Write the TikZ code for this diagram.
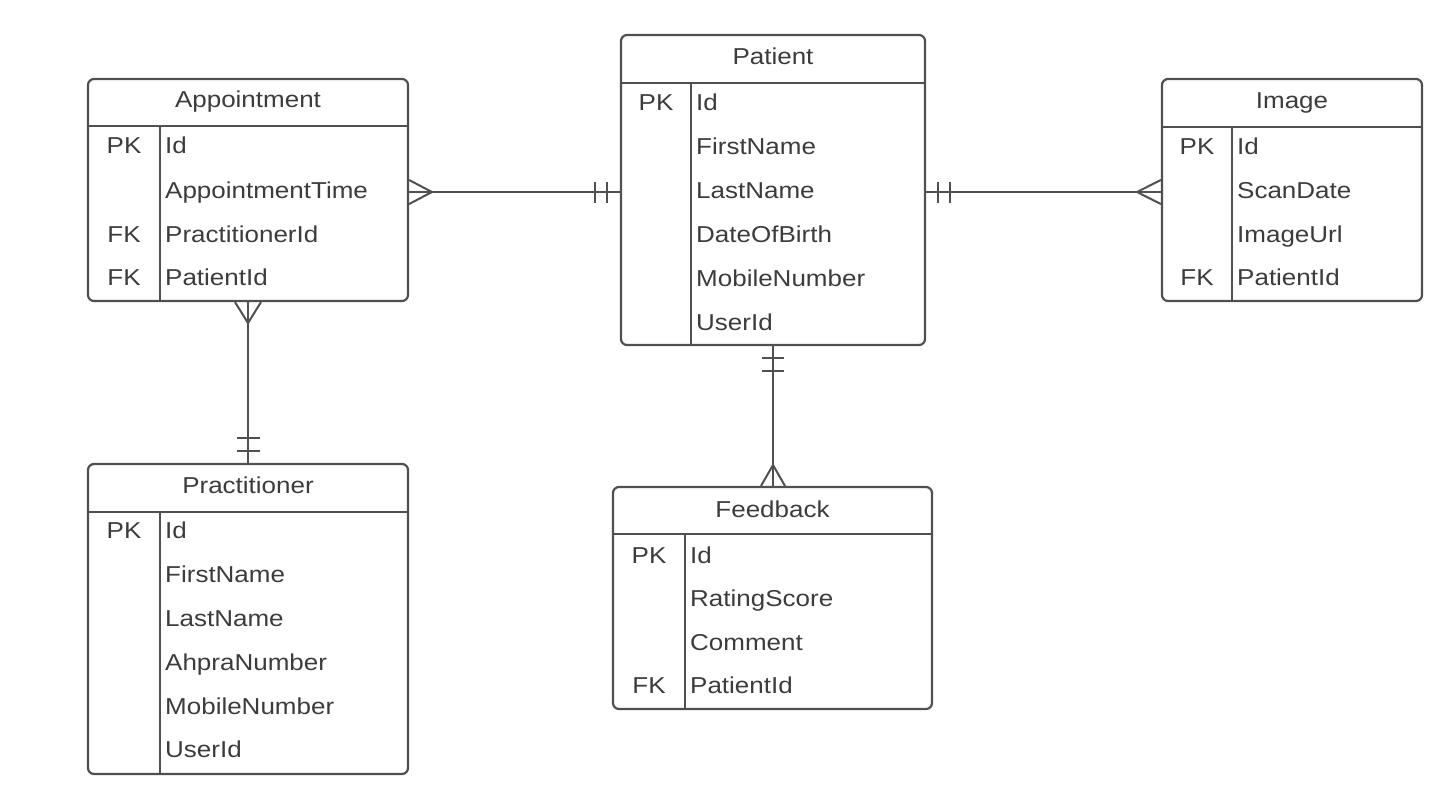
\documentclass[tikz,border=0pt]{standalone}
\usepackage{fontspec}
\setmainfont{Liberation Sans}[FakeStretch=1.13]
\definecolor{linegray}{HTML}{505050}
\definecolor{textgray}{HTML}{3C3C3C}
\begin{document}
\begin{tikzpicture}[x=1pt,y=-1pt,
  entity/.style={draw=linegray, line width=2.2pt, rounded corners=6pt, fill=white, inner sep=0pt},
  sepline/.style={draw=linegray, line width=2.2pt},
  conn/.style={draw=linegray, line width=2pt},
  txt/.style={font=\fontsize{23}{28}\selectfont, text=textgray, inner sep=0pt, anchor=base},
  fieldtxt/.style={txt, anchor=base west},
]
\useasboundingbox (0,0) rectangle (1456,801);
\fill[white] (0,0) rectangle (1456,801);

% ---------- Appointment ----------
\node[entity, minimum width=320pt, minimum height=222pt] (app) at (248,190) {};
\draw[sepline] (app.west |- 0,126) -- (app.east |- 0,126);
\draw[sepline] (160,126) -- (app.south -| 160,0);
\node[txt] (appT) at (248,107) {Appointment};
\node[txt] (appK1) at (124,153) {PK};
\node[fieldtxt] (appF1) at (165,153) {Id};
\node[fieldtxt] (appF2) at (165,198) {AppointmentTime};
\node[txt] (appK3) at (124,242) {FK};
\node[fieldtxt] (appF3) at (165,242) {PractitionerId};
\node[txt] (appK4) at (124,285) {FK};
\node[fieldtxt] (appF4) at (165,285) {PatientId};

% ---------- Patient ----------
\node[entity, minimum width=304pt, minimum height=310pt] (pat) at (773,190) {};
\draw[sepline] (pat.west |- 0,83) -- (pat.east |- 0,83);
\draw[sepline] (691,83) -- (pat.south -| 691,0);
\node[txt] (patT) at (773,64) {Patient};
\node[txt] (patK1) at (656,110) {PK};
\node[fieldtxt] (patF1) at (696,110) {Id};
\node[fieldtxt] (patF2) at (696,154) {FirstName};
\node[fieldtxt] (patF3) at (696,198) {LastName};
\node[fieldtxt] (patF4) at (696,242) {DateOfBirth};
\node[fieldtxt] (patF5) at (696,286) {MobileNumber};
\node[fieldtxt] (patF6) at (696,330) {UserId};

% ---------- Image ----------
\node[entity, minimum width=260pt, minimum height=222pt] (img) at (1292,190) {};
\draw[sepline] (img.west |- 0,127) -- (img.east |- 0,127);
\draw[sepline] (1232,127) -- (img.south -| 1232,0);
\node[txt] (imgT) at (1292,108) {Image};
\node[txt] (imgK1) at (1197,154) {PK};
\node[fieldtxt] (imgF1) at (1237,154) {Id};
\node[fieldtxt] (imgF2) at (1237,198) {ScanDate};
\node[fieldtxt] (imgF3) at (1237,242) {ImageUrl};
\node[txt] (imgK4) at (1197,285) {FK};
\node[fieldtxt] (imgF4) at (1237,285) {PatientId};

% ---------- Practitioner ----------
\node[entity, minimum width=320pt, minimum height=310pt] (pra) at (248,619) {};
\draw[sepline] (pra.west |- 0,512) -- (pra.east |- 0,512);
\draw[sepline] (160,512) -- (pra.south -| 160,0);
\node[txt] (praT) at (248,493) {Practitioner};
\node[txt] (praK1) at (124,538) {PK};
\node[fieldtxt] (praF1) at (165,538) {Id};
\node[fieldtxt] (praF2) at (165,582) {FirstName};
\node[fieldtxt] (praF3) at (165,626) {LastName};
\node[fieldtxt] (praF4) at (165,670) {AhpraNumber};
\node[fieldtxt] (praF5) at (165,714) {MobileNumber};
\node[fieldtxt] (praF6) at (165,757) {UserId};

% ---------- Feedback ----------
\node[entity, minimum width=319pt, minimum height=222pt] (fb) at (772.5,598) {};
\draw[sepline] (fb.west |- 0,534) -- (fb.east |- 0,534);
\draw[sepline] (685,534) -- (fb.south -| 685,0);
\node[txt] (fbT) at (772.5,517) {Feedback};
\node[txt] (fbK1) at (649,563) {PK};
\node[fieldtxt] (fbF1) at (690,563) {Id};
\node[fieldtxt] (fbF2) at (690,606) {RatingScore};
\node[fieldtxt] (fbF3) at (690,650) {Comment};
\node[txt] (fbK4) at (649,693) {FK};
\node[fieldtxt] (fbF4) at (690,693) {PatientId};

% ---------- Connectors ----------
% Appointment (many) -- Patient (one)
\draw[conn] (app.east |- 0,192) -- (pat.west |- 0,192);
\draw[conn] (app.east |- 0,180) -- (432,192) -- (app.east |- 0,204);
\draw[conn] (595,182) -- (595,203) (607,182) -- (607,203);

% Patient (one) -- Image (many)
\draw[conn] (pat.east |- 0,192) -- (img.west |- 0,192);
\draw[conn] (938,182) -- (938,203) (950,182) -- (950,203);
\draw[conn] (img.west |- 0,180) -- (1137,192) -- (img.west |- 0,204);

% Appointment (many) -- Practitioner (one)
\draw[conn] (app.south) -- (pra.north);
\draw[conn] (app.south -| 235,0) -- (248,323) -- (app.south -| 261,0);
\draw[conn] (237,438) -- (260,438) (237,451) -- (260,451);

% Patient (one) -- Feedback (many)
\draw[conn] (pat.south) -- (fb.north -| pat.south);
\draw[conn] (762,358) -- (784,358) (762,371) -- (784,371);
\draw[conn] (fb.north -| 761,0) -- (773,465) -- (fb.north -| 785,0);
\end{tikzpicture}
\end{document}
